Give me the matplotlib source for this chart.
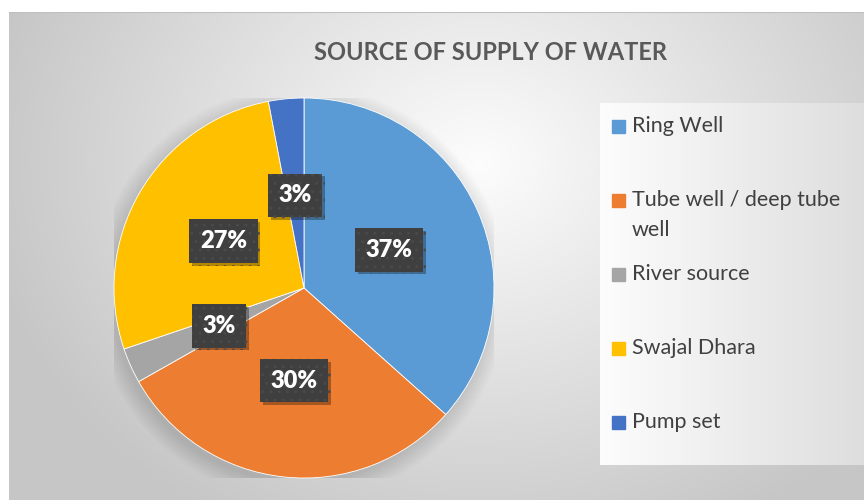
import textwrap
import numpy as np
import matplotlib
matplotlib.use("Agg")
import matplotlib.pyplot as plt
from matplotlib.patches import Rectangle, Circle
import matplotlib.patheffects as pe

plt.rcParams['font.family'] = ['Lato', 'DejaVu Sans']

# data
categories = ['Ring Well', 'Tube well / deep tube well', 'River source',
              'Swajal Dhara', 'Pump set']
shares = [36.6, 30.2, 3.0, 27.2, 3.0]
colors = ['#5B9BD5', '#ED7D31', '#A5A5A5', '#FFC000', '#4472C4']
title = 'SOURCE OF SUPPLY OF WATER'

W, H = 864, 500
fig = plt.figure(figsize=(W / 100, H / 100), dpi=100)
fig.patch.set_facecolor('white')

# chart area background: soft radial gradient
bg = fig.add_axes([9 / W, 0, 1 - 9 / W, 1 - 12 / H])
yy, xx = np.mgrid[0:488, 0:855]
d = np.hypot((xx - 470) / 520, (yy - 150) / 430)
shade = np.clip(0.99 - 0.22 * d, 0.78, 0.99)
bg.imshow(np.dstack([shade] * 3), aspect='auto', extent=(0, 1, 0, 1), origin='upper')
bg.axhline(1, color='#bfbfbf', lw=1.5)
bg.set_axis_off()

fig.text(490 / W, 1 - 53 / H, title, ha='center', va='center',
         fontsize=17, fontweight='bold', color='#595959')

# legend panel
lx0, ly0, lx1, ly1 = 600, 103, 864, 465
lg = fig.add_axes([lx0 / W, 1 - ly1 / H, (lx1 - lx0) / W, (ly1 - ly0) / H])
gx = np.linspace(0, 1, 300)
gshade = 0.99 - 0.12 * gx
lg.imshow(np.dstack([np.tile(gshade, (10, 1))] * 3), aspect='auto',
          extent=(0, 1, 0, 1))
lg.set_xlim(0, 1)
lg.set_ylim(0, 1)
lg.set_axis_off()

# pie
cx, cy, r = 304, 288, 190
ax = fig.add_axes([(cx - r) / W, 1 - (cy + r) / H, 2 * r / W, 2 * r / H])
ax.patch.set_visible(False)
for k in range(10):
    ax.add_patch(Circle((-0.015, -0.025), 1.0 + 0.01 * k, color='black',
                        alpha=0.012, lw=0, zorder=0))
wedges, texts, autotexts = ax.pie(
    shares, colors=colors, startangle=90, counterclock=False,
    autopct='%.0f%%', pctdistance=0.49,
    wedgeprops=dict(edgecolor='white', linewidth=0.6),
    textprops=dict(color='white', fontsize=17, fontweight='heavy'))
for t in autotexts:
    t.set_bbox(dict(boxstyle='square,pad=0.45', fc='#3f3f3f', ec='#494949',
                    lw=0.0, hatch='..'))
    t.get_bbox_patch().set_path_effects(
        [pe.SimplePatchShadow(offset=(2, -2), shadow_rgbFace='black', alpha=0.3),
         pe.Normal()])
ax.set_xlim(-1, 1)
ax.set_ylim(-1, 1)

# legend entries
for i, (name, col) in enumerate(zip(categories, colors)):
    ypix = 127 + 74 * i
    fig.patches.append(Rectangle((612 / W, 1 - (ypix + 6) / H), 13 / W, 13 / H,
                                 transform=fig.transFigure, color=col))
    fig.text(632 / W, 1 - (ypix - 11) / H, textwrap.fill(name, 21),
             ha='left', va='top', fontsize=15.5, color='#404040', linespacing=1.6)

fig.savefig('out.png', dpi=100)
